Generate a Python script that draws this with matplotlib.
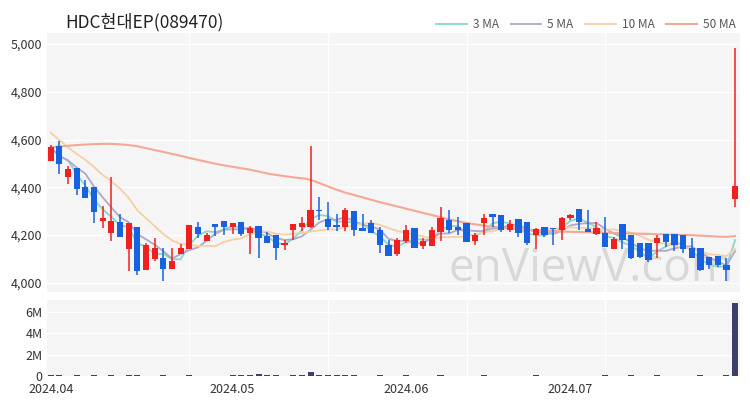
import matplotlib.pyplot as plt
import numpy as np
import pandas as pd
from matplotlib.ticker import FuncFormatter

plt.rcParams['font.family'] = ['Noto Sans CJK KR', 'DejaVu Sans']

# 일봉 데이터 (2024.04 ~ 2024.07)
opens = [4512, 4571, 4444, 4479, 4400, 4403, 4260, 4208, 4256, 4140,
         4236, 4055, 4099, 4105, 4060, 4123, 4142, 4236, 4174, 4245,
         4260, 4236, 4256, 4208, 4240, 4195, 4201, 4159, 4222, 4236,
         4236, 4307, 4266, 4242, 4236, 4301, 4229, 4250, 4222, 4160,
         4119, 4174, 4229, 4153, 4153, 4215, 4263, 4236, 4252, 4174,
         4249, 4288, 4284, 4222, 4266, 4256, 4201, 4236, 4231, 4222,
         4270, 4311, 4225, 4204, 4211, 4144, 4248, 4199, 4165, 4165,
         4165, 4206, 4206, 4202, 4147, 4147, 4110, 4114, 4076, 4351]
highs = [4578, 4592, 4489, 4479, 4430, 4403, 4321, 4445, 4290, 4249,
         4236, 4167, 4188, 4147, 4147, 4163, 4242, 4256, 4208, 4245,
         4260, 4252, 4256, 4238, 4240, 4215, 4201, 4181, 4245, 4275,
         4571, 4359, 4338, 4288, 4315, 4301, 4290, 4263, 4236, 4181,
         4188, 4242, 4229, 4188, 4236, 4318, 4304, 4274, 4252, 4208,
         4290, 4288, 4284, 4263, 4266, 4256, 4229, 4236, 4231, 4274,
         4290, 4311, 4304, 4256, 4275, 4193, 4248, 4199, 4165, 4165,
         4199, 4206, 4206, 4202, 4186, 4147, 4110, 4114, 4103, 4983]
lows = [4512, 4455, 4416, 4370, 4355, 4249, 4229, 4177, 4192, 4051,
        4033, 4055, 4092, 4010, 4060, 4123, 4142, 4188, 4174, 4195,
        4201, 4205, 4195, 4123, 4105, 4167, 4096, 4137, 4181, 4216,
        4229, 4262, 4222, 4216, 4216, 4197, 4216, 4208, 4126, 4112,
        4112, 4167, 4147, 4142, 4153, 4174, 4208, 4201, 4170, 4160,
        4201, 4236, 4215, 4215, 4192, 4160, 4142, 4192, 4160, 4181,
        4263, 4222, 4215, 4201, 4149, 4142, 4142, 4100, 4106, 4089,
        4103, 4151, 4133, 4124, 4103, 4051, 4059, 4065, 4007, 4316]
closes = [4567, 4496, 4475, 4393, 4355, 4297, 4272, 4260, 4192, 4249,
          4051, 4160, 4147, 4058, 4092, 4147, 4242, 4205, 4201, 4232,
          4236, 4249, 4205, 4229, 4188, 4167, 4147, 4167, 4245, 4249,
          4304, 4300, 4236, 4232, 4304, 4222, 4219, 4208, 4160, 4112,
          4181, 4222, 4147, 4174, 4222, 4270, 4222, 4222, 4170, 4201,
          4270, 4277, 4222, 4247, 4208, 4167, 4225, 4201, 4225, 4270,
          4284, 4256, 4215, 4231, 4149, 4183, 4179, 4103, 4110, 4096,
          4188, 4172, 4158, 4144, 4103, 4055, 4073, 4076, 4055, 4406]
volumes = [60000, 50000, 40000, 50000, 45000, 90000, 40000, 70000, 40000, 50000,
           60000, 40000, 35000, 60000, 40000, 30000, 50000, 40000, 30000, 30000,
           40000, 60000, 50000, 70000, 150000, 50000, 80000, 40000, 60000, 70000,
           400000, 90000, 60000, 50000, 70000, 60000, 40000, 40000, 50000, 40000,
           40000, 50000, 40000, 30000, 40000, 60000, 40000, 30000, 40000, 30000,
           50000, 40000, 40000, 30000, 40000, 40000, 50000, 30000, 30000, 40000,
           30000, 40000, 30000, 30000, 50000, 30000, 40000, 50000, 40000, 40000,
           50000, 40000, 30000, 40000, 40000, 60000, 40000, 30000, 50000, 6800000]

# 10일선 앞부분과 50일선 (이전 기간 데이터 반영분, 차트에서 읽은 값)
ma10_head = [4629, 4598, 4567, 4540, 4515, 4485, 4452, 4425, 4395]
ma50 = [4567, 4571, 4574, 4577, 4579, 4581, 4582, 4582, 4580, 4577,
        4572, 4564, 4556, 4548, 4540, 4532, 4523, 4515, 4507, 4499,
        4492, 4486, 4480, 4474, 4466, 4458, 4452, 4447, 4442, 4438,
        4432, 4418, 4404, 4390, 4378, 4368, 4358, 4348, 4338, 4329,
        4320, 4311, 4302, 4293, 4284, 4275, 4266, 4258, 4251, 4245,
        4240, 4235, 4231, 4228, 4225, 4223, 4221, 4219, 4217, 4215,
        4214, 4213, 4212, 4211, 4210, 4209, 4208, 4207, 4206, 4205,
        4204, 4203, 4202, 4201, 4200, 4198, 4196, 4194, 4193, 4196]

tick_pos = [0, 21, 41, 60]
tick_labels = ['2024.04', '2024.05', '2024.06', '2024.07']

c = pd.Series(closes)
ma3 = c.rolling(3, min_periods=1).mean()
ma5 = c.rolling(5, min_periods=1).mean()
ma10 = c.rolling(10).mean()
ma10[:len(ma10_head)] = ma10_head

x = np.arange(len(closes))
up_col = '#f0201e'
dn_col = '#1762e0'
bg = '#f5f5f5'

fig = plt.figure(figsize=(7.5, 4.0), dpi=100)
ax = fig.add_axes([0.063, 0.27, 0.924, 0.6475])
axv = fig.add_axes([0.063, 0.06, 0.924, 0.19])

for a in (ax, axv):
    a.set_facecolor(bg)
    for s in a.spines.values():
        s.set_visible(False)
    a.tick_params(which='both', length=0, labelsize=9, colors='#333333')
    a.set_xlim(-0.4, 79.6)
    a.set_xticks([16, 32, 48, 64], minor=True)
    a.grid(True, which='minor', axis='x', color='white', lw=1)
    a.grid(True, which='major', axis='y', color='white', lw=1)
    a.set_axisbelow(True)

# 이동평균선
ax.plot(x, ma3, color='#86d8ca', lw=1.3, label='3 MA', zorder=2)
ax.plot(x, ma5, color='#b2a6cc', lw=1.3, label='5 MA', zorder=2)
ax.plot(x, ma10, color='#f6d0a4', lw=1.3, label='10 MA', zorder=2)
ax.plot(x, ma50, color='#f6a896', lw=1.5, label='50 MA', zorder=2)

# 캔들
for i in range(len(closes)):
    col = up_col if closes[i] >= opens[i] else dn_col
    ax.vlines(i, lows[i], highs[i], color=col, lw=1.1, zorder=3)
    lo = min(opens[i], closes[i])
    h = max(abs(closes[i] - opens[i]), 4)
    ax.bar(i, h, bottom=lo, width=0.72, color=col, zorder=4)

ax.set_ylim(3962, 5046)
ax.set_yticks([4000, 4200, 4400, 4600, 4800, 5000])
ax.yaxis.set_major_formatter(FuncFormatter(lambda v, p: f'{int(v):,}'))
ax.set_xticks([])

ax.text(0.99, 0.0, 'enViewV.com', transform=ax.transAxes, ha='right', va='bottom',
        fontsize=33, color='#d8d8d8', family='Open Sans', zorder=1)

fig.text(0.087, 0.945, 'HDC현대EP(089470)', fontsize=12.5, color='#222222', va='center')
fig.legend(loc='center right', bbox_to_anchor=(0.995, 0.938), ncol=4, frameon=False,
           fontsize=8.5, handlelength=2.6, columnspacing=1.0, handletextpad=0.5,
           labelcolor='#555555')

# 거래량
axv.bar(x, volumes, width=0.7, color='#3c3e6c')
axv.set_ylim(0, 7.1e6)
axv.set_yticks([0, 2e6, 4e6, 6e6])
axv.yaxis.set_major_formatter(FuncFormatter(lambda v, p: '0' if v == 0 else f'{int(v/1e6)}M'))
axv.set_xticks(tick_pos)
axv.set_xticklabels(tick_labels)
axv.tick_params(axis='x', pad=5)

fig.savefig('out.png', dpi=100)
